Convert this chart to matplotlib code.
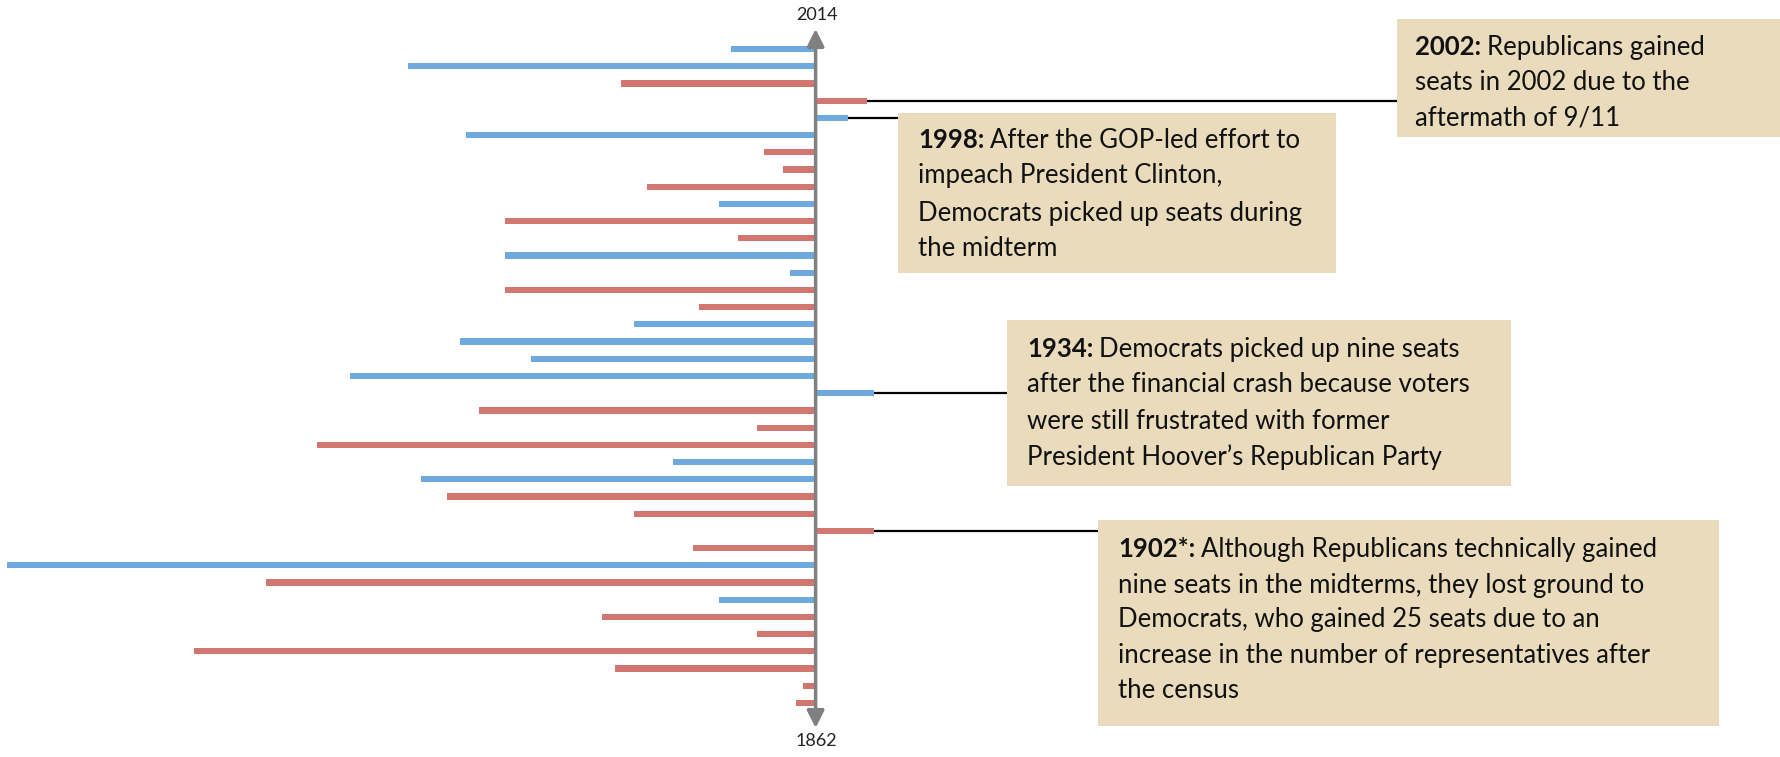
import matplotlib
matplotlib.use("Agg")
import matplotlib.pyplot as plt
from matplotlib.patches import Rectangle

# ---- data: seat change of the president's party in midterm House elections ----
years = [2014, 2010, 2006, 2002, 1998, 1994, 1990, 1986, 1982, 1978, 1974, 1970, 1966,
         1962, 1958, 1954, 1950, 1946, 1942, 1938, 1934, 1930, 1926, 1922, 1918, 1914,
         1910, 1906, 1902, 1898, 1894, 1890, 1886, 1882, 1878, 1874, 1870, 1866, 1862]
seat_change = [-13, -63, -30, 8, 5, -54, -8, -5, -26, -15, -48, -12, -48,
               -4, -48, -18, -28, -55, -44, -72, 9, -52, -9, -77, -22, -61,
               -57, -28, 9, -19, -125, -85, -15, -33, -9, -96, -31, -2, -3]
party = ["D", "D", "R", "R", "D", "D", "R", "R", "R", "D", "R", "R", "D",
         "D", "R", "R", "D", "D", "D", "D", "D", "R", "R", "R", "D", "D",
         "R", "R", "R", "R", "D", "R", "D", "R", "R", "R", "R", "R", "R"]
axis_labels = ["2014", "1862"]

notes = [
    (2002, "2002:", ["Republicans gained", "seats in 2002 due to the", "aftermath of 9/11"]),
    (1998, "1998:", ["After the GOP-led effort to", "impeach President Clinton,",
                     "Democrats picked up seats during", "the midterm"]),
    (1934, "1934:", ["Democrats picked up nine seats", "after the financial crash because voters",
                     "were still frustrated with former", "President Hoover\u2019s Republican Party"]),
    (1902, "1902*:", ["Although Republicans technically gained",
                      "nine seats in the midterms, they lost ground to",
                      "Democrats, who gained 25 seats due to an",
                      "increase in the number of representatives after", "the census"]),
]

# ---- style ----
W, H = 1781, 757
DPI = 100
colors = {"D": "#6FAADF", "R": "#D27670"}
box_color = "#E9DBBB"
FONT = "Lato"
fs = 18.5

fig = plt.figure(figsize=(W / DPI, H / DPI), dpi=DPI)
ax = fig.add_axes([0, 0, 1, 1])
ax.set_xlim(-126.05, 149.2)
ax.set_ylim(1849.45, 2025.39)
ax.axis("off")

def fx(x):
    return x / W

def fy(y):
    return 1 - y / H

ax.barh(years, seat_change, height=1.45, color=[colors[p] for p in party], zorder=2)

# central time axis with arrow heads
ax.annotate("", xy=(0, 2018.65), xytext=(0, 1856.19),
            arrowprops=dict(arrowstyle="<|-|>", color="#808080", lw=2.5,
                            mutation_scale=26, shrinkA=0, shrinkB=0), zorder=3)
ax.text(0.15, 2021.9, axis_labels[0], ha="center", va="center", fontsize=13,
        family=FONT, color="#222222")
ax.text(0.15, 1853.1, axis_labels[1], ha="center", va="center", fontsize=13,
        family=FONT, color="#222222")

# annotation boxes (pixel layout)
boxes = {
    2002: dict(x0=1397, x1=1785, y0=19, y1=137, tx=1415, lines=[47, 82, 118]),
    1998: dict(x0=898, x1=1336, y0=113, y1=273, tx=918, lines=[140, 176, 213, 248]),
    1934: dict(x0=1007, x1=1511, y0=320, y1=486, tx=1027, lines=[349, 385, 422, 457]),
    1902: dict(x0=1098, x1=1719, y0=520, y1=726, tx=1118, lines=[549, 585, 620, 655, 690]),
}

inv = ax.transData.inverted()
fig.canvas.draw()
renderer = fig.canvas.get_renderer()

for yr, head, body in notes:
    b = boxes[yr]
    fig.patches.append(Rectangle((fx(b["x0"]), fy(b["y1"])), fx(b["x1"] - b["x0"]),
                                 (b["y1"] - b["y0"]) / H, transform=fig.transFigure,
                                 facecolor=box_color, edgecolor="none", zorder=1))
    # leader line from bar end to box
    val = seat_change[years.index(yr)]
    xbox = inv.transform((b["x0"], 0))[0]
    ax.plot([val, xbox], [yr, yr], color="black", lw=1.6, zorder=1,
            solid_capstyle="butt")
    # text
    ly = b["lines"]
    t = fig.text(fx(b["tx"]), fy(ly[0]), head, fontsize=fs, family=FONT,
                 weight="bold", ha="left", va="center", color="#111111")
    bb = t.get_window_extent(renderer)
    fig.text(fx(bb.x1 + 6), fy(ly[0]), body[0], fontsize=fs, family=FONT,
             ha="left", va="center", color="#111111")
    for line, yy in zip(body[1:], ly[1:]):
        fig.text(fx(b["tx"]), fy(yy), line, fontsize=fs, family=FONT,
                 ha="left", va="center", color="#111111")

fig.savefig("out.png", dpi=DPI)
